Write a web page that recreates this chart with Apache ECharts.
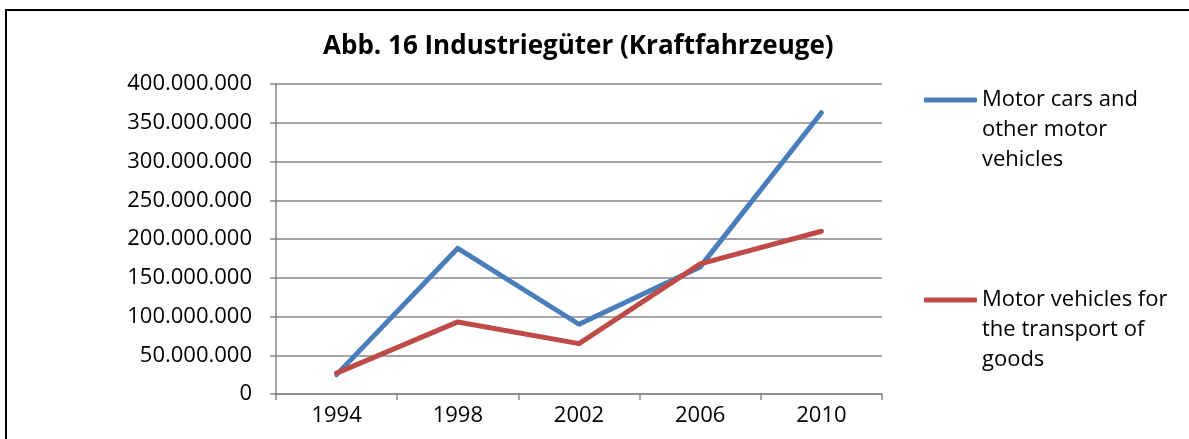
<!DOCTYPE html>
<html>
<head>
<meta charset="utf-8">
<script src="https://cdn.jsdelivr.net/npm/echarts@6/dist/echarts.min.js"></script>
<style>
  html, body { margin: 0; padding: 0; background: #fff; }
  #frame { position: absolute; left: 5px; top: 9px; width: 1300px; height: 600px; border: 2px solid #000; box-sizing: border-box; }
  #chart { position: absolute; left: 0; top: 0; width: 1189px; height: 439px; }
</style>
</head>
<body>
<div id="frame"></div>
<div id="chart"></div>
<script>
const years = ["1994", "1998", "2002", "2006", "2010"];
const carsName = "Motor cars and other motor vehicles";
const carsValues = [25000000, 188000000, 90000000, 164000000, 363000000];
const goodsName = "Motor vehicles for the transport of goods";
const goodsValues = [27000000, 93000000, 65000000, 168000000, 210000000];
const titleText = "Abb. 16 Industriegüter (Kraftfahrzeuge)";

const legendLines = {};
legendLines[carsName] = "\n\nMotor cars and\nother motor\nvehicles";
legendLines[goodsName] = "\n\nMotor vehicles for\nthe transport of\ngoods";

var chartInstance = echarts.init(document.getElementById("chart"));

function fmt(v) {
  return String(v).replace(/\B(?=(\d{3})+(?!\d))/g, ".");
}

function legendFor(name, top) {
  return {
    data: [name],
    left: 924,
    top: top,
    orient: "vertical",
    icon: "roundRect",
    itemWidth: 53,
    itemHeight: 5,
    padding: 0,
    formatter: function (n) { return legendLines[n]; },
    textStyle: {
      fontFamily: "Open Sans",
      fontSize: 22,
      lineHeight: 30,
      color: "#000"
    }
  };
}

var option = {
  animation: false,
  title: {
    text: titleText,
    left: 318,
    top: 29,
    textStyle: {
      fontFamily: "Open Sans",
      fontWeight: "bold",
      fontSize: 26,
      color: "#000"
    }
  },
  legend: [legendFor(carsName, 25), legendFor(goodsName, 225)],
  grid: {
    left: 276,
    right: 307,
    top: 84,
    bottom: 45,
    containLabel: false
  },
  xAxis: {
    type: "category",
    data: years,
    boundaryGap: true,
    axisLine: { lineStyle: { color: "#868686", width: 1.5 } },
    axisTick: { show: true, length: 6, lineStyle: { color: "#868686", width: 1.5 } },
    axisLabel: { margin: 11, fontFamily: "Open Sans", fontSize: 22, color: "#000" }
  },
  yAxis: {
    type: "value",
    min: 0,
    max: 400000000,
    interval: 50000000,
    axisLine: { show: true, lineStyle: { color: "#868686", width: 1.5 } },
    axisTick: { show: true, length: 6, lineStyle: { color: "#868686", width: 1.5 } },
    splitLine: { lineStyle: { color: "#868686", width: 1.5 } },
    axisLabel: {
      margin: 24,
      fontFamily: "Open Sans",
      fontSize: 22,
      color: "#000",
      formatter: fmt
    }
  },
  series: [
    {
      name: carsName,
      type: "line",
      data: carsValues,
      showSymbol: false,
      symbol: "none",
      color: "#4A7EBB",
      lineStyle: { width: 5, color: "#4A7EBB", cap: "round", join: "round" }
    },
    {
      name: goodsName,
      type: "line",
      data: goodsValues,
      showSymbol: false,
      symbol: "none",
      color: "#BE4B48",
      lineStyle: { width: 5, color: "#BE4B48", cap: "round", join: "round" }
    }
  ]
};
chartInstance.setOption(option);
</script>
</body>
</html>
